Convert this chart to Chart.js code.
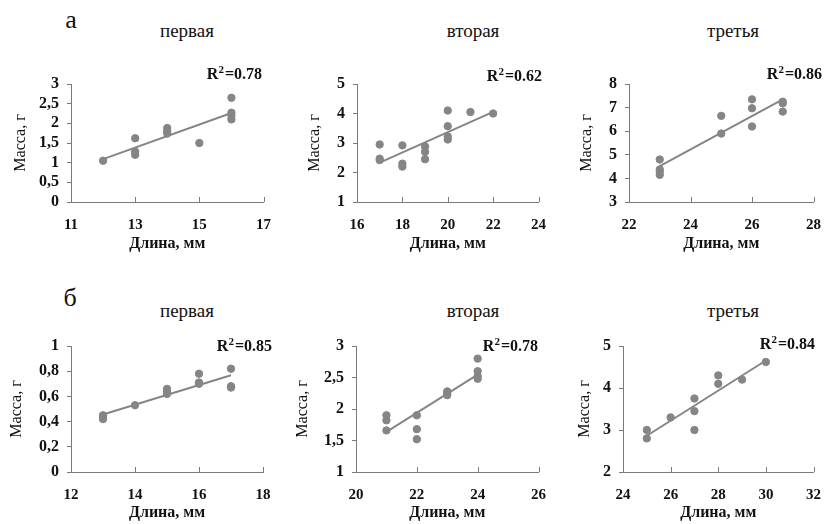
<!DOCTYPE html>
<html>
<head>
<meta charset="utf-8">
<script src="https://cdn.jsdelivr.net/npm/chart.js@4.4.1/dist/chart.umd.min.js"></script>
<style>
  body { margin: 0; background: #fff; width: 835px; height: 524px; position: relative; overflow: hidden;
         font-family: "Liberation Serif", "Times New Roman", serif; }
  canvas { position: absolute; }
  .lbl { position: absolute; color: #111; white-space: nowrap; transform: translate(-50%, -50%); }
</style>
</head>
<body>
<script>
// labels
const rowLabels = ['а', 'б'];
const fishNames = ['первая', 'вторая', 'третья'];
const xTitle = 'Длина, мм';
const yTitle = 'Масса, г';
const r2Values = ['0.78', '0.62', '0.86', '0.85', '0.78', '0.84'];

// а — первая
const lenA1 = [12, 13, 13, 13, 14, 14, 14, 15, 16, 16, 16, 16];
const massA1 = [1.05, 1.62, 1.28, 1.2, 1.88, 1.8, 1.74, 1.5, 2.65, 2.27, 2.2, 2.1];
const xTicksA1 = [11, 13, 15, 17];
const yTicksA1 = [0, 0.5, 1, 1.5, 2, 2.5, 3];

// а — вторая
const lenA2 = [17, 17, 17, 18, 18, 18, 19, 19, 19, 20, 20, 20, 20, 21, 22];
const massA2 = [2.95, 2.47, 2.42, 2.92, 2.3, 2.2, 2.88, 2.7, 2.45, 4.1, 3.57, 3.22, 3.12, 4.05, 4.0];
const xTicksA2 = [16, 18, 20, 22, 24];
const yTicksA2 = [1, 2, 3, 4, 5];

// а — третья
const lenA3 = [23, 23, 23, 23, 25, 25, 26, 26, 26, 27, 27, 27];
const massA3 = [4.8, 4.38, 4.28, 4.15, 6.65, 5.9, 7.35, 6.97, 6.2, 7.25, 7.18, 6.83];
const xTicksA3 = [22, 24, 26, 28];
const yTicksA3 = [3, 4, 5, 6, 7, 8];

// б — первая
const lenB1 = [13, 13, 13, 14, 15, 15, 15, 16, 16, 16, 17, 17, 17];
const massB1 = [0.45, 0.43, 0.42, 0.53, 0.66, 0.64, 0.62, 0.78, 0.71, 0.7, 0.82, 0.68, 0.67];
const xTicksB1 = [12, 14, 16, 18];
const yTicksB1 = [0, 0.2, 0.4, 0.6, 0.8, 1];

// б — вторая
const lenB2 = [21, 21, 21, 22, 22, 22, 23, 23, 23, 24, 24, 24, 24];
const massB2 = [1.9, 1.82, 1.66, 1.9, 1.68, 1.52, 2.28, 2.25, 2.22, 2.8, 2.6, 2.52, 2.48];
const xTicksB2 = [20, 22, 24, 26];
const yTicksB2 = [1, 1.5, 2, 2.5, 3];

// б — третья
const lenB3 = [25, 25, 26, 27, 27, 27, 28, 28, 29, 30];
const massB3 = [3.0, 2.8, 3.3, 3.75, 3.45, 3.0, 4.3, 4.1, 4.2, 4.62];
const xTicksB3 = [24, 26, 28, 30, 32];
const yTicksB3 = [2, 3, 4, 5];

const GREY = '#858585';
const AXIS = '#7a7a7a';
const INK = '#111';
const SERIF = "'Liberation Serif', 'Times New Roman', serif";

// canvas box [left, top, w, h], plot area [l, t, r, b], y title centre, R² right/middle
const panels = [
  { len: lenA1, mass: massA1, xt: xTicksA1, yt: yTicksA1, box: [0, 50, 285, 205],   area: [71, 84, 267, 202],  yTitleX: 21,  r2: [262, 75] },
  { len: lenA2, mass: massA2, xt: xTicksA2, yt: yTicksA2, box: [285, 50, 275, 205], area: [357, 84, 556, 202], yTitleX: 315, r2: [542, 77] },
  { len: lenA3, mass: massA3, xt: xTicksA3, yt: yTicksA3, box: [560, 50, 275, 205], area: [629, 84, 823, 202], yTitleX: 587, r2: [822, 75] },
  { len: lenB1, mass: massB1, xt: xTicksB1, yt: yTicksB1, box: [0, 320, 285, 204],   area: [71, 346, 263, 472],  yTitleX: 17,  r2: [272, 347] },
  { len: lenB2, mass: massB2, xt: xTicksB2, yt: yTicksB2, box: [285, 320, 275, 204], area: [356, 346, 553, 472], yTitleX: 303, r2: [538, 347] },
  { len: lenB3, mass: massB3, xt: xTicksB3, yt: yTicksB3, box: [560, 320, 275, 204], area: [623, 346, 825, 472], yTitleX: 585, r2: [815, 345] },
];

const titleCols = [187, 473, 733];
const titleRows = [31, 311];
const rowLabelPos = [[71, 20], [70, 298]];

function addLabel(text, x, y, size) {
  const d = document.createElement('div');
  d.className = 'lbl';
  d.textContent = text;
  d.style.left = x + 'px';
  d.style.top = y + 'px';
  d.style.fontSize = size + 'px';
  document.body.appendChild(d);
}

rowLabels.forEach((t, r) => addLabel(t, rowLabelPos[r][0], rowLabelPos[r][1], 26));
titleRows.forEach(y => fishNames.forEach((t, c) => addLabel(t, titleCols[c], y, 19)));

// least squares trend line
function trend(xs, ys) {
  const n = xs.length;
  const mx = xs.reduce((s, v) => s + v, 0) / n;
  const my = ys.reduce((s, v) => s + v, 0) / n;
  let sxy = 0, sxx = 0;
  xs.forEach((x, i) => { sxy += (x - mx) * (ys[i] - my); sxx += (x - mx) * (x - mx); });
  const b = sxy / sxx;
  return { a: my - b * mx, b };
}

function comma(v) {
  return String(Math.round(v * 10) / 10).replace('.', ',');
}

// x ticks point up into the plot
const xTickMarks = {
  id: 'xTickMarks',
  afterDraw(chart) {
    const s = chart.scales.x, ctx = chart.ctx;
    ctx.save();
    ctx.strokeStyle = AXIS;
    ctx.lineWidth = 1;
    s.ticks.forEach(t => {
      const px = Math.round(s.getPixelForValue(t.value)) + 0.5;
      ctx.beginPath();
      ctx.moveTo(px, s.top);
      ctx.lineTo(px, s.top - 5);
      ctx.stroke();
    });
    ctx.restore();
  }
};

const r2Label = {
  id: 'r2Label',
  afterDraw(chart, args, opts) {
    const ctx = chart.ctx;
    ctx.save();
    ctx.fillStyle = INK;
    ctx.textBaseline = 'middle';
    const big = 'bold 16px ' + SERIF, small = 'bold 11px ' + SERIF;
    ctx.font = big;
    const wR = ctx.measureText('R').width;
    const rest = '=' + opts.text;
    const wRest = ctx.measureText(rest).width;
    ctx.font = small;
    const w2 = ctx.measureText('2').width + 1;
    let x = opts.right - (wR + w2 + wRest);
    ctx.font = big;
    ctx.fillText('R', x, opts.y);
    ctx.font = small;
    ctx.fillText('2', x + wR, opts.y - 5);
    ctx.font = big;
    ctx.fillText(rest, x + wR + w2, opts.y);
    ctx.restore();
  }
};

function makeChart(p, i) {
  const [bx, by, bw, bh] = p.box;
  const [al, at, ar, ab] = p.area;
  const cv = document.createElement('canvas');
  cv.width = bw;
  cv.height = bh;
  cv.style.left = bx + 'px';
  cv.style.top = by + 'px';
  cv.style.width = bw + 'px';
  cv.style.height = bh + 'px';
  document.body.appendChild(cv);

  const pts = p.len.map((x, k) => ({ x, y: p.mass[k] }));
  const fit = trend(p.len, p.mass);
  const x0 = Math.min(...p.len), x1 = Math.max(...p.len);

  new Chart(cv, {
    type: 'scatter',
    data: {
      datasets: [
        { data: pts, backgroundColor: GREY, borderColor: GREY, pointRadius: 3.7, pointHoverRadius: 3.7, order: 1 },
        { data: [{ x: x0, y: fit.a + fit.b * x0 }, { x: x1, y: fit.a + fit.b * x1 }],
          showLine: true, borderColor: GREY, borderWidth: 2, pointRadius: 0, order: 2 },
      ],
    },
    options: {
      responsive: false,
      animation: false,
      devicePixelRatio: 1,
      layout: { padding: { left: 0, top: at - by, right: bx + bw - ar, bottom: 0 } },
      plugins: {
        legend: { display: false },
        tooltip: { enabled: false },
        r2Label: { text: r2Values[i], right: p.r2[0] - bx, y: p.r2[1] - by },
      },
      scales: {
        x: {
          type: 'linear',
          min: p.xt[0],
          max: p.xt[p.xt.length - 1],
          afterBuildTicks: s => { s.ticks = p.xt.map(v => ({ value: v })); },
          afterFit: s => { s.height = by + bh - ab; },
          grid: { display: true, drawOnChartArea: false, drawTicks: false, color: AXIS },
          border: { color: AXIS, width: 1 },
          ticks: { color: INK, font: { family: SERIF, size: 15, weight: 'bold' }, padding: 14, maxRotation: 0, autoSkip: false },
          title: { display: true, text: xTitle, color: INK, font: { family: SERIF, size: 16, weight: 'bold' }, padding: { top: 0, bottom: 2 } },
        },
        y: {
          type: 'linear',
          min: p.yt[0],
          max: p.yt[p.yt.length - 1],
          afterBuildTicks: s => { s.ticks = p.yt.map(v => ({ value: v })); },
          afterFit: s => { s.width = al - bx; },
          grid: { display: true, drawOnChartArea: false, drawTicks: true, tickLength: 4, color: AXIS },
          border: { color: AXIS, width: 1 },
          ticks: { color: INK, font: { family: SERIF, size: 16, weight: 'bold' }, padding: 8, autoSkip: false, callback: v => comma(v) },
          title: { display: true, text: yTitle, color: INK, font: { family: SERIF, size: 16 }, padding: { top: p.yTitleX - bx - 9.6, bottom: 0 } },
        },
      },
    },
    plugins: [xTickMarks, r2Label],
  });
}

panels.forEach(makeChart);
</script>
</body>
</html>
